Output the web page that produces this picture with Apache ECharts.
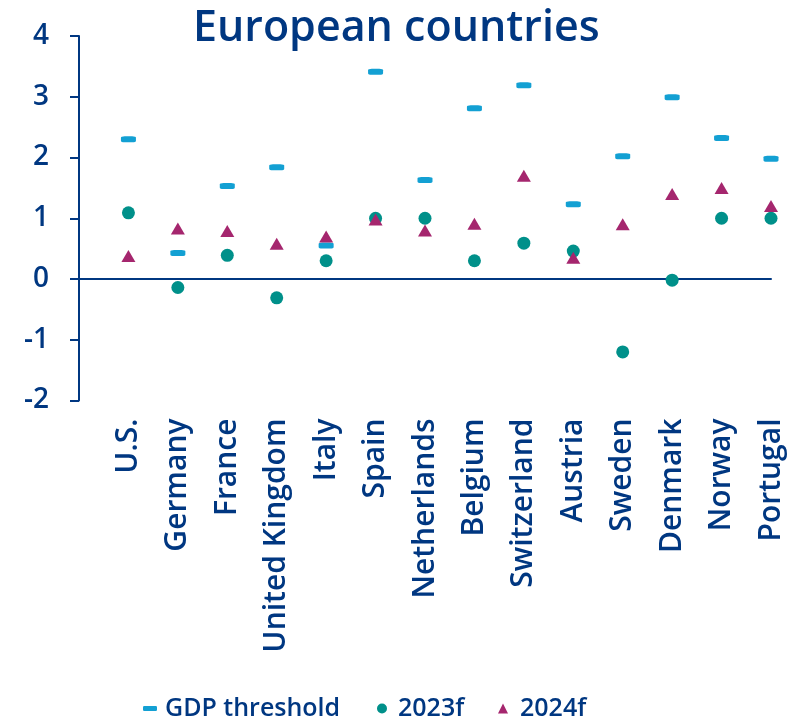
<!DOCTYPE html>
<html>
<head>
<meta charset="utf-8">
<script src="https://cdn.jsdelivr.net/npm/echarts@6/dist/echarts.min.js"></script>
<style>
  html, body { margin: 0; padding: 0; background: #fff; }
  #chart { width: 799px; height: 722px; }
</style>
</head>
<body>
<div id="chart"></div>
<script>
// Countries shown along the horizontal axis
const countries = ['U.S.', 'Germany', 'France', 'United Kingdom', 'Italy', 'Spain', 'Netherlands',
  'Belgium', 'Switzerland', 'Austria', 'Sweden', 'Denmark', 'Norway', 'Portugal'];

// GDP growth threshold (%)
const gdpThreshold = [2.30, 0.43, 1.53, 1.84, 0.55, 3.41, 1.63, 2.81, 3.19, 1.23, 2.02, 2.99, 2.32, 1.98];
// Forecast GDP growth 2023 (%)
const growth2023 = [1.09, -0.14, 0.39, -0.31, 0.30, 1.00, 1.00, 0.30, 0.59, 0.46, -1.20, -0.02, 1.00, 1.00];
// Forecast GDP growth 2024 (%)
const growth2024 = [0.38, 0.83, 0.79, 0.58, 0.70, 0.98, 0.80, 0.91, 1.70, 0.35, 0.90, 1.40, 1.50, 1.20];

const yTicks = [-2, -1, 0, 1, 2, 3, 4];

const NAVY = '#003781';
const FONT = '"Open Sans", "Noto Sans", sans-serif';

// A leading empty slot keeps the first country one step away from the y axis
const axisCats = [''].concat(countries);
const pad = arr => [null].concat(arr);

const legendText = (padLeft) => ({
  color: NAVY, fontFamily: FONT, fontSize: 25, fontWeight: 600, padding: [0, 0, 0, padLeft]
});

const chart = echarts.init(document.getElementById('chart'), null, { renderer: 'canvas' });

chart.setOption({
  animation: false,
  backgroundColor: '#ffffff',
  title: {
    text: 'European countries',
    left: 193,
    top: 7,
    padding: 0,
    textStyle: { color: NAVY, fontFamily: FONT, fontSize: 43, fontWeight: 600 }
  },
  legend: [
    {
      data: ['GDP threshold'], left: 143, top: 696, padding: 0, itemWidth: 14, itemHeight: 5,
      textStyle: legendText(3)
    },
    {
      data: ['2023f'], left: 377, top: 696, padding: 0, itemWidth: 10, itemHeight: 10,
      textStyle: legendText(6)
    },
    {
      data: ['2024f'], left: 498, top: 696, padding: 0, itemWidth: 10, itemHeight: 10,
      textStyle: legendText(7)
    }
  ],
  grid: { left: 79, right: 28, top: 36, bottom: 321.5, containLabel: false },
  xAxis: [
    {
      type: 'category',
      data: axisCats,
      boundaryGap: false,
      position: 'bottom',
      axisLine: { show: false, onZero: false },
      axisTick: { show: false },
      splitLine: { show: false },
      axisLabel: {
        rotate: 90, margin: 18, color: NAVY, fontFamily: FONT, fontSize: 30, fontWeight: 600,
        interval: 0
      }
    },
    {
      // zero baseline
      type: 'category',
      data: axisCats,
      boundaryGap: false,
      position: 'bottom',
      axisLine: { show: true, onZero: true, lineStyle: { color: NAVY, width: 2 } },
      axisTick: { show: false },
      axisLabel: { show: false },
      splitLine: { show: false }
    }
  ],
  yAxis: {
    type: 'value',
    min: yTicks[0],
    max: yTicks[yTicks.length - 1],
    interval: 1,
    axisLine: { show: true, lineStyle: { color: NAVY, width: 2 } },
    axisTick: { show: true, inside: false, length: 9, lineStyle: { color: NAVY, width: 2 } },
    splitLine: { show: false },
    axisLabel: { margin: 30, color: NAVY, fontFamily: FONT, fontSize: 28, fontWeight: 600 }
  },
  series: [
    {
      name: 'GDP threshold',
      type: 'scatter',
      data: pad(gdpThreshold),
      symbol: 'roundRect',
      symbolSize: [15, 6],
      itemStyle: { color: '#13A0D3', opacity: 1 },
      z: 2
    },
    {
      name: '2023f',
      type: 'scatter',
      data: pad(growth2023),
      symbol: 'circle',
      symbolSize: 13,
      itemStyle: { color: '#00908A', opacity: 1 },
      z: 3
    },
    {
      name: '2024f',
      type: 'scatter',
      data: pad(growth2024),
      symbol: 'triangle',
      symbolSize: [14, 12],
      itemStyle: { color: '#A5266E', opacity: 1 },
      z: 4
    }
  ]
});
</script>
</body>
</html>
